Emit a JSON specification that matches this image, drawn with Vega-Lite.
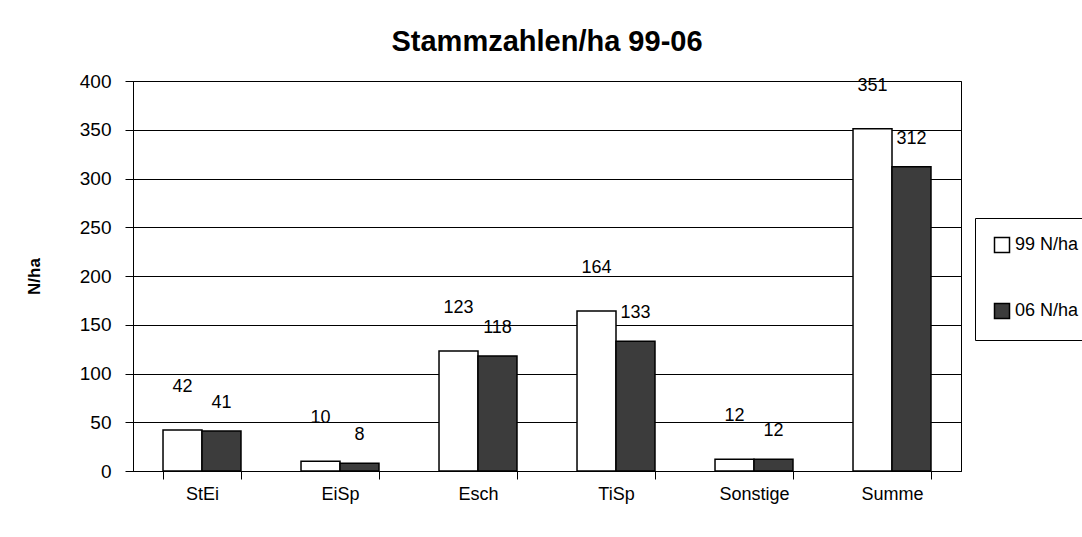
{
  "$schema": "https://vega.github.io/schema/vega-lite/v6.json",
  "width": 828,
  "height": 390,
  "padding": {"left": 25, "top": 28, "right": 0, "bottom": 10},
  "background": "white",
  "title": {"text": "Stammzahlen/ha 99-06", "fontSize": 29, "font": "Liberation Sans", "fontWeight": "bold", "color": "black", "offset": 15},
  "data": {"values": [
    {"cat": "StEi", "series": "99 N/ha", "value": 42},
    {"cat": "StEi", "series": "06 N/ha", "value": 41},
    {"cat": "EiSp", "series": "99 N/ha", "value": 10},
    {"cat": "EiSp", "series": "06 N/ha", "value": 8},
    {"cat": "Esch", "series": "99 N/ha", "value": 123},
    {"cat": "Esch", "series": "06 N/ha", "value": 118},
    {"cat": "TiSp", "series": "99 N/ha", "value": 164},
    {"cat": "TiSp", "series": "06 N/ha", "value": 133},
    {"cat": "Sonstige", "series": "99 N/ha", "value": 12},
    {"cat": "Sonstige", "series": "06 N/ha", "value": 12},
    {"cat": "Summe", "series": "99 N/ha", "value": 351},
    {"cat": "Summe", "series": "06 N/ha", "value": 312}
  ]},
  "encoding": {
    "x": {
      "field": "cat", "type": "nominal",
      "sort": ["StEi", "EiSp", "Esch", "TiSp", "Sonstige", "Summe"],
      "scale": {"paddingInner": 0.435, "paddingOuter": 0.2175},
      "axis": {"title": null, "labelAngle": 0, "labelFont": "Liberation Sans", "labelFontSize": 18, "labelColor": "black", "domainColor": "black", "tickColor": "black", "tickSize": 8, "tickBand": "extent", "labelPadding": 6, "grid": false}
    },
    "xOffset": {"field": "series", "type": "nominal", "sort": ["99 N/ha", "06 N/ha"], "scale": {"paddingInner": 0, "paddingOuter": 0}},
    "y": {
      "field": "value", "type": "quantitative",
      "scale": {"domain": [0, 400], "nice": false},
      "axis": {"title": "N/ha", "values": [0, 50, 100, 150, 200, 250, 300, 350, 400], "labelFont": "Liberation Sans", "labelFontSize": 19, "labelColor": "black", "titleFont": "Liberation Sans", "titleFontSize": 17, "titleFontWeight": "bold", "titleColor": "black", "titleX": -90, "titleY": 195, "domainColor": "black", "tickColor": "black", "tickSize": 8, "labelPadding": 14, "gridColor": "black", "gridOpacity": 1, "minExtent": 100, "maxExtent": 100}
    }
  },
  "layer": [
    {
      "mark": {"type": "bar", "stroke": "black", "strokeWidth": 1.5},
      "encoding": {
        "color": {
          "field": "series", "type": "nominal",
          "scale": {"domain": ["99 N/ha", "06 N/ha"], "range": ["#ffffff", "#3c3c3c"]},
          "legend": {"orient": "none", "legendX": 842, "legendY": 137, "title": null, "strokeColor": "black", "fillColor": "white", "padding": 18, "symbolType": "square", "symbolSize": 225, "symbolStrokeColor": "black", "symbolStrokeWidth": 1.5, "labelFont": "Liberation Sans", "labelFontSize": 18, "labelColor": "black", "rowPadding": 44, "labelOffset": 4}
        }
      }
    },
    {
      "transform": [{"filter": "datum.series === '99 N/ha'"}],
      "mark": {"type": "text", "baseline": "bottom", "dy": -34, "font": "Liberation Sans", "fontSize": 18, "color": "black"},
      "encoding": {"text": {"field": "value", "type": "quantitative"}}
    },
    {
      "transform": [{"filter": "datum.series === '06 N/ha'"}],
      "mark": {"type": "text", "baseline": "bottom", "dy": -19, "font": "Liberation Sans", "fontSize": 18, "color": "black"},
      "encoding": {"text": {"field": "value", "type": "quantitative"}}
    }
  ],
  "config": {"view": {"stroke": "black", "strokeWidth": 1}}
}
